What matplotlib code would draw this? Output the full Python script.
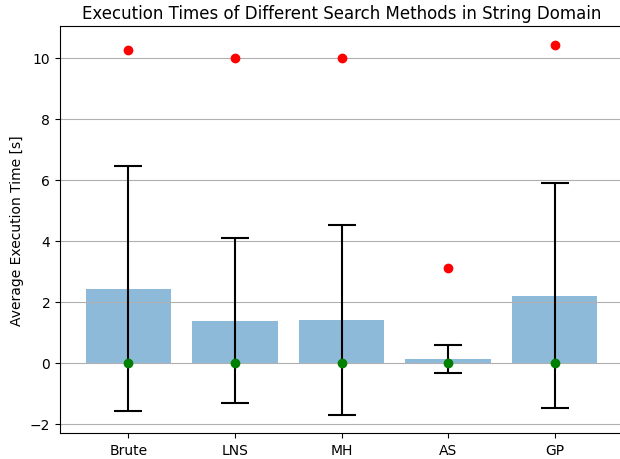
import matplotlib
matplotlib.use('Agg')
import matplotlib.pyplot as plt

methods = ['Brute', 'LNS', 'MH', 'AS', 'GP']
mean_times = [2.43, 1.38, 1.41, 0.13, 2.20]
std_times = [4.03, 2.69, 3.11, 0.46, 3.70]
min_times = [0.0, 0.0, 0.0, 0.0, 0.0]
max_times = [10.26, 9.98, 9.98, 3.10, 10.43]

fig = plt.figure(figsize=(6.2, 4.6), dpi=100)
# axes run slightly past the right edge, like the reference crop
ax = fig.add_axes([60 / 620, 26 / 460, 563 / 620, 407 / 460])

ax.bar(methods, mean_times, yerr=std_times, capsize=10, alpha=0.5,
       error_kw={'elinewidth': 1.5, 'capthick': 1.5, 'ecolor': 'black'})
ax.scatter(methods, min_times, color='green', zorder=3)
ax.scatter(methods, max_times, color='red', zorder=3)
ax.set_xlim(-0.64, 4.64)

ax.set_ylabel('Average Execution Time [s]')
ax.set_title('Execution Times of Different Search Methods in String Domain')
ax.yaxis.grid(True)

plt.savefig('out.png')
